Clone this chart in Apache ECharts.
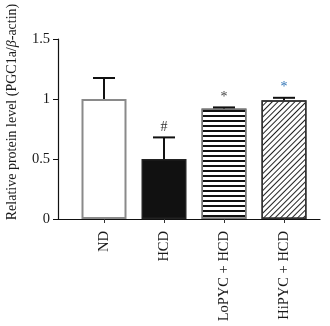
<!DOCTYPE html>
<html><head><meta charset="utf-8">
<script src="https://cdn.jsdelivr.net/npm/echarts@6/dist/echarts.min.js"></script>
<style>html,body{margin:0;padding:0;background:#fff}#c{width:330px;height:326px}</style>
</head><body><div id="c"></div>
<script>
const categories = ['ND', 'HCD', 'LoPYC + HCD', 'HiPYC + HCD'];
const means = [1.0, 0.5, 0.92, 0.99];
const errTops = [1.175, 0.68, 0.93, 1.01];
const marks = ['', '#', '*', '*'];
const markColors = ['#333', '#333', '#444', '#2f73b5'];
const yTicks = [0, 0.5, 1, 1.5];

const font = 'Liberation Serif';
const styles = [
  {color: '#ffffff', borderColor: '#8a8a8a', borderWidth: 2},
  {color: '#111111', borderColor: '#222', borderWidth: 1.5},
  {color: '#ffffff', borderColor: '#777', borderWidth: 1.5,
   decal: {symbol: 'rect', symbolSize: 1, dashArrayX: [[1, 0]], dashArrayY: [2, 3], rotation: 0, color: '#111'}},
  {color: '#ffffff', borderColor: '#333', borderWidth: 1.5,
   decal: {symbol: 'rect', symbolSize: 1, dashArrayX: [[1, 0]], dashArrayY: [1, 2.2], rotation: -Math.PI / 4, color: '#222'}}
];

const chart = echarts.init(document.getElementById('c'), null, {renderer: 'canvas'});
chart.setOption({
  animation: false,
  backgroundColor: '#fff',
  grid: [
    {left: 58, right: 10, top: 39, bottom: 107},
    {left: 74, right: 16, top: 39, bottom: 107}
  ],
  xAxis: [
    {type: 'value', gridIndex: 0, min: 0, max: 1, axisLine: {show: true, lineStyle: {color: '#111', width: 1.2}},
     axisTick: {show: false}, axisLabel: {show: false}, splitLine: {show: false}},
    {type: 'category', gridIndex: 1, data: categories, axisLine: {show: false},
     axisTick: {show: true, alignWithLabel: true, length: 4, lineStyle: {color: '#333'}},
     axisLabel: {rotate: 90, margin: 12, fontFamily: font, fontSize: 14.5, color: '#1a1a1a'}}
  ],
  yAxis: [
    {type: 'value', gridIndex: 0, min: 0, max: 1.5, interval: 0.5,
     axisLine: {show: true, lineStyle: {color: '#111', width: 1.2}},
     axisTick: {show: true, length: 5, lineStyle: {color: '#111'}},
     axisLabel: {margin: 8, fontFamily: font, fontSize: 14.5, color: '#1a1a1a',
       formatter: v => String(v)}, splitLine: {show: false}},
    {type: 'value', gridIndex: 1, min: 0, max: 1.5, show: false}
  ],
  graphic: [{
    type: 'text', x: 12, y: 112, rotation: Math.PI / 2,
    style: {text: 'Relative protein level (PGC1a/{i|β}-actin)', font: '14px "Liberation Serif"',
      fill: '#1a1a1a', align: 'center', verticalAlign: 'middle',
      rich: {i: {fontStyle: 'italic', fontFamily: font, fontSize: 14, fill: '#1a1a1a'}}}
  }],
  series: [
    {type: 'bar', xAxisIndex: 1, yAxisIndex: 1, barWidth: 45,
     data: means.map((v, i) => ({value: v, itemStyle: styles[i]}))},
    {type: 'custom', xAxisIndex: 1, yAxisIndex: 1, z: 5,
     data: means.map((v, i) => [i, v, errTops[i]]),
     renderItem: function (params, api) {
       const i = api.value(0);
       const base = api.coord([i, api.value(1)]);
       const top = api.coord([i, api.value(2)]);
       const hw = 11;
       const children = [
         {type: 'line', shape: {x1: base[0], y1: base[1], x2: top[0], y2: top[1]}, style: {stroke: '#111', lineWidth: 2}},
         {type: 'line', shape: {x1: top[0] - hw, y1: top[1], x2: top[0] + hw, y2: top[1]}, style: {stroke: '#111', lineWidth: 2}}
       ];
       const m = marks[params.dataIndex];
       if (m) {
         children.push({type: 'text', x: top[0], y: top[1] - 3,
           style: {text: m, font: '14px "Liberation Serif"', fill: markColors[params.dataIndex], align: 'center', verticalAlign: 'bottom'}});
       }
       return {type: 'group', children: children};
     }}
  ]
});
</script></body></html>
